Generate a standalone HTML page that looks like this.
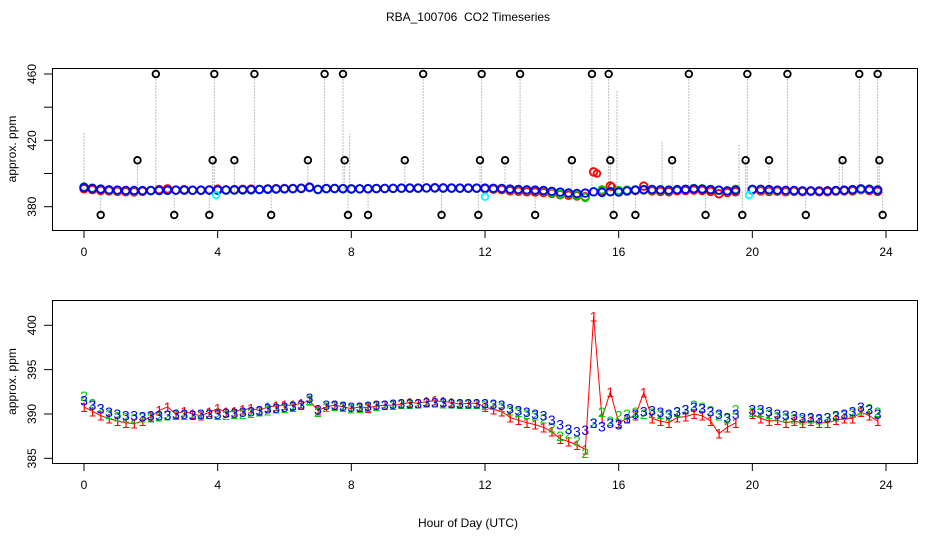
<!DOCTYPE html>
<html><head><meta charset="utf-8"><style>
body{margin:0;background:#fff}
svg{display:block;font-family:"Liberation Sans",Arial,sans-serif}
</style></head><body>
<svg id="c" width="936" height="540"></svg>
<script>
const hours=[];for(let i=0;i<96;i++)hours.push(i*0.25);
const xTicks=[0,4,8,12,16,20,24];
const topYTicks=[380,400,420,440,460];
const topYLabels=["380","420","460"];
const botYTicks=[385,390,395,400];
const series3=[391.5,391.0,390.6,390.2,390.0,389.8,389.8,389.7,389.8,389.8,389.9,390.0,390.0,389.9,390.0,390.0,
390.0,390.1,390.1,390.2,390.3,390.4,390.6,390.7,390.8,390.9,391.0,391.8,390.5,391.0,391.0,390.9,
390.8,390.8,390.9,391.0,391.0,391.1,391.2,391.2,391.2,391.3,391.3,391.3,391.2,391.2,391.2,391.2,
391.2,391.1,391.0,390.6,390.4,390.2,390.0,389.8,389.3,388.8,388.3,388.0,388.2,389.0,388.6,389.0,
388.8,389.5,390.0,390.3,390.4,390.2,390.0,390.3,390.5,390.8,390.6,390.3,390.0,389.6,390.0,null,
390.5,390.5,390.3,390.0,389.9,389.8,389.6,389.6,389.5,389.6,389.8,390.0,390.3,390.8,390.5,390.0];
const series1=[390.8,390.3,389.8,389.5,389.2,389.0,388.9,389.2,389.7,390.4,390.8,390.0,390.3,390.0,389.8,390.2,
390.6,390.2,390.3,390.5,390.6,390.4,390.8,390.9,391.0,391.0,391.2,391.5,390.4,390.8,391.0,390.8,
390.6,390.8,390.7,390.9,391.0,391.0,391.1,391.3,391.2,391.4,391.5,391.4,391.3,391.1,391.2,391.2,
390.8,390.5,390.3,389.6,389.3,389.0,388.8,388.5,388.0,387.2,386.9,386.5,386.0,401.0,389.5,392.5,
389.0,389.5,389.8,392.4,389.5,389.2,389.0,389.6,389.7,390.0,389.8,389.2,387.8,388.5,389.0,null,
390.0,389.5,389.2,389.3,389.0,389.2,389.0,389.2,389.0,389.0,389.3,389.5,389.5,390.2,389.8,389.2];
const series2=[392.0,391.2,390.6,390.0,389.7,389.6,389.5,389.6,389.6,389.7,389.8,389.9,389.9,389.9,390.0,390.0,
389.9,389.9,390.0,390.0,390.1,390.3,390.4,390.6,390.7,390.8,391.0,391.6,390.2,390.8,390.9,390.8,
390.6,390.7,390.8,390.9,391.0,391.0,391.1,391.1,391.2,391.3,391.3,391.2,391.2,391.1,391.1,391.1,
391.0,391.0,390.8,390.4,390.2,390.0,389.8,389.5,388.5,387.5,387.8,387.0,385.6,389.0,390.2,389.2,
389.8,390.0,390.2,390.0,390.1,390.0,389.8,390.2,390.5,391.0,390.8,390.4,389.8,389.5,390.5,null,
390.2,390.2,390.0,389.7,389.6,389.5,389.4,389.5,389.4,389.6,389.7,389.9,390.1,390.4,390.6,390.2];
const outT=[0.5,1.6,2.15,2.7,3.75,3.85,3.9,4.5,5.1,5.6,6.7,7.2,7.75,7.8,7.9,8.5,9.6,10.15,10.7,11.8,11.85,11.9,12.6,13.05,13.5,14.6,15.2,15.7,15.75,15.85,16.5,17.6,18.1,18.6,19.7,19.8,19.85,20.5,21.05,21.6,22.7,23.2,23.75,23.8,23.9];
const outV=[375,408,460,375,375,408,460,408,460,375,408,460,460,408,375,375,408,460,375,375,408,460,408,460,375,408,460,460,408,375,375,408,460,375,375,408,460,408,460,375,408,460,460,408,375];
const spikeT=[0,7.95,15.95,17.3,19.6,22.6];
const spikeV=[425,424,450,420,418,412];
const cyanT=[3.95,12.0,19.9];
const cyanV=[387,386,387];
const extraRedT=[15.35,15.8];
const extraRedV=[400,392];

const NS="http://www.w3.org/2000/svg",svg=document.getElementById('c');
function mk(t,a,p){const e=document.createElementNS(NS,t);for(const k in a)e.setAttribute(k,a[k]);(p||svg).appendChild(e);return e;}
const X=t=>84+t*(886-84)/24;
const YT=v=>206.7-(v-380)*(206.7-74)/80;
const YB=v=>458.3-(v-385)*(458.3-325.3)/15;

let e=mk('text',{x:468,y:21,'text-anchor':'middle','font-size':12});e.textContent='RBA_100706\u00a0 CO2 Timeseries';



function axes(top,bot,ticks,labels,Y,ylab,name){
  const g=mk('g',{});
  
  
  const fr=mk('rect',{x:52.5,y:top+.5,width:865,height:bot-top,fill:'none',stroke:'#000'},g);
  
  
  xTicks.forEach(t=>{mk('line',{x1:X(t),x2:X(t),y1:bot,y2:bot+8,stroke:'#000'},g);
    const l=mk('text',{x:X(t),y:bot+26,'text-anchor':'middle','font-size':12},g);l.textContent=t;
    
    });
  ticks.forEach(v=>{mk('line',{x1:44,x2:52,y1:Y(v),y2:Y(v),stroke:'#000'},g);});
  labels.forEach(s=>{const v=+s;const l=mk('text',{x:36,y:Y(v),'text-anchor':'middle','font-size':12,transform:`rotate(-90 36 ${Y(v)})`},g);l.textContent=s;
    
    });
  const yl=mk('text',{x:16,y:(top+bot)/2,'text-anchor':'middle','font-size':12,transform:`rotate(-90 16 ${(top+bot)/2})`},g);yl.textContent=ylab;
  
  
}
axes(68,230,topYTicks,topYLabels,YT,'approx. ppm','top-panel-axes');
axes(300,463,botYTicks,["385","390","395","400"],YB,'approx. ppm','bottom-panel-axes');
e=mk('text',{x:468,y:527,'text-anchor':'middle','font-size':12});e.textContent='Hour of Day (UTC)';



// top panel
const gT=mk('g',{});


spikeT.forEach((t,i)=>{const l=mk('line',{x1:X(t),x2:X(t),y1:YT(389),y2:YT(spikeV[i]),stroke:'#aaa','stroke-dasharray':'1.5 1.5'},gT);
  
  });
outT.forEach((t,i)=>{const l=mk('line',{x1:X(t),x2:X(t),y1:YT(389),y2:YT(outV[i]),stroke:'#aaa','stroke-dasharray':'1.5 1.5'},gT);
  
  });
function circles(ts,vs,col,name,r){ts.forEach((t,i)=>{if(vs[i]==null)return;const c=mk('circle',{cx:X(t),cy:YT(vs[i]),r:r,fill:'none',stroke:col,'stroke-width':1.8},gT);
  
  });}
circles(hours,series1,'#f00','top-point-1',3.8);
circles(extraRedT,extraRedV,'#f00','top-point-1',3.3);
circles(hours,series2,'#0c0','top-point-2',3.8);
circles(hours,series3,'#00f','top-point-3',3.8);
circles(cyanT,cyanV,'#0ff','top-point-cyan',3.3);
circles(outT,outV,'#000','outlier-point',3.3);

// bottom panel
const gB=mk('g',{});


let d='',pen=false;
hours.forEach((t,i)=>{const v=series1[i];if(v==null){pen=false;return;}d+=(pen?'L':'M')+X(t).toFixed(1)+' '+YB(v).toFixed(1);pen=true;});
const rl=mk('path',{d:d,fill:'none',stroke:'#f00','stroke-width':1},gB);


function glyphs(vs,ch,col,name){hours.forEach((t,i)=>{if(vs[i]==null)return;const s=mk('text',{x:X(t),y:YB(vs[i])+5,'text-anchor':'middle','font-size':14,fill:col},gB);s.textContent=ch;
  
  });}
glyphs(series1,'1','#f00','series-1-point');
glyphs(series2,'2','#0c0','series-2-point');
glyphs(series3,'3','#00f','series-3-point');
</script>
</body></html>
